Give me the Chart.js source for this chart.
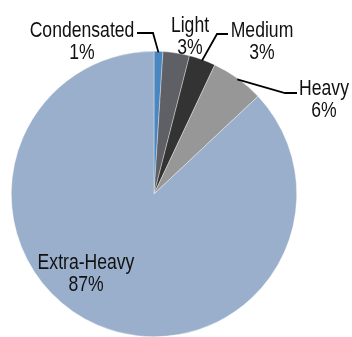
<!DOCTYPE html>
<html>
<head>
<meta charset="utf-8">
<title>Crude oil reserves by type</title>
<script src="https://cdn.jsdelivr.net/npm/chart.js@4.4.1/dist/chart.umd.min.js"></script>
<style>
    html, body { margin: 0; padding: 0; background: #fff; }
    #wrap { width: 352px; height: 337px; }
</style>
</head>
<body>
<div id="wrap"><canvas id="pie" width="352" height="337"></canvas></div>
<script>
// Share of reserves by crude type (%)
const categories = ['Condensated', 'Light', 'Medium', 'Heavy', 'Extra-Heavy'];
const shares = [1, 3, 3, 6, 87];
const sliceColours = ['#4a86c0', '#5e6065', '#333333', '#979797', '#9aafcb'];

// Where each label sits, relative to the pie centre; leader = elbow and end of the callout line
const labelLayout = [
    { dx: -72, dy: -157, leader: [[-1, -161], [-17, -161]] },
    { dx: 36, dy: -162, leader: null },
    { dx: 108, dy: -157, leader: [[63, -160], [74, -160]] },
    { dx: 170, dy: -99, leader: [[131, -101], [143, -101]] },
    { dx: -68, dy: 75, leader: null }
];

// No narrow face installed, so squeeze the regular one horizontally
const FONT = '22px "Liberation Sans", Arial, sans-serif';
const SQUEEZE = 0.8;
const LINE_GAP = 22;

function narrowText(ctx, text, x, y) {
    ctx.save();
    ctx.translate(x, y);
    ctx.scale(SQUEEZE, 1);
    ctx.fillText(text, 0, 0);
    ctx.restore();
}

// Draws "name / value%" labels and their callout lines
const pieLabels = {
    id: 'pieLabels',
    afterDraw(chart) {
        const ctx = chart.ctx;
        const arcs = chart.getDatasetMeta(0).data;
        ctx.save();
        ctx.font = FONT;
        ctx.fillStyle = '#111';
        ctx.textAlign = 'center';
        ctx.textBaseline = 'alphabetic';
        ctx.strokeStyle = '#000';
        ctx.lineWidth = 1.8;

        arcs.forEach((arc, i) => {
            const { x, y, startAngle, endAngle, outerRadius } = arc.getProps(['x', 'y', 'startAngle', 'endAngle', 'outerRadius'], true);
            const layout = labelLayout[i];

            if (layout.leader) {
                const mid = (startAngle + endAngle) / 2;
                const r = outerRadius - 1;
                ctx.beginPath();
                ctx.moveTo(x + Math.cos(mid) * r, y + Math.sin(mid) * r);
                layout.leader.forEach(([px, py]) => ctx.lineTo(x + px, y + py));
                ctx.stroke();
            }

            const tx = x + layout.dx;
            const ty = y + layout.dy;
            narrowText(ctx, categories[i], tx, ty);
            narrowText(ctx, shares[i] + '%', tx, ty + LINE_GAP);
        });
        ctx.restore();
    }
};

new Chart(document.getElementById('pie'), {
    type: 'pie',
    data: {
        labels: categories,
        datasets: [{
            data: shares,
            backgroundColor: sliceColours,
            borderColor: 'rgba(255,255,255,0.6)',
            borderWidth: 0.6
        }]
    },
    options: {
        responsive: false,
        animation: false,
        layout: { padding: { left: 11, right: 55, top: 51, bottom: 0 } },
        plugins: {
            legend: { display: false },
            tooltip: { enabled: false }
        }
    },
    plugins: [pieLabels]
});
</script>
</body>
</html>
